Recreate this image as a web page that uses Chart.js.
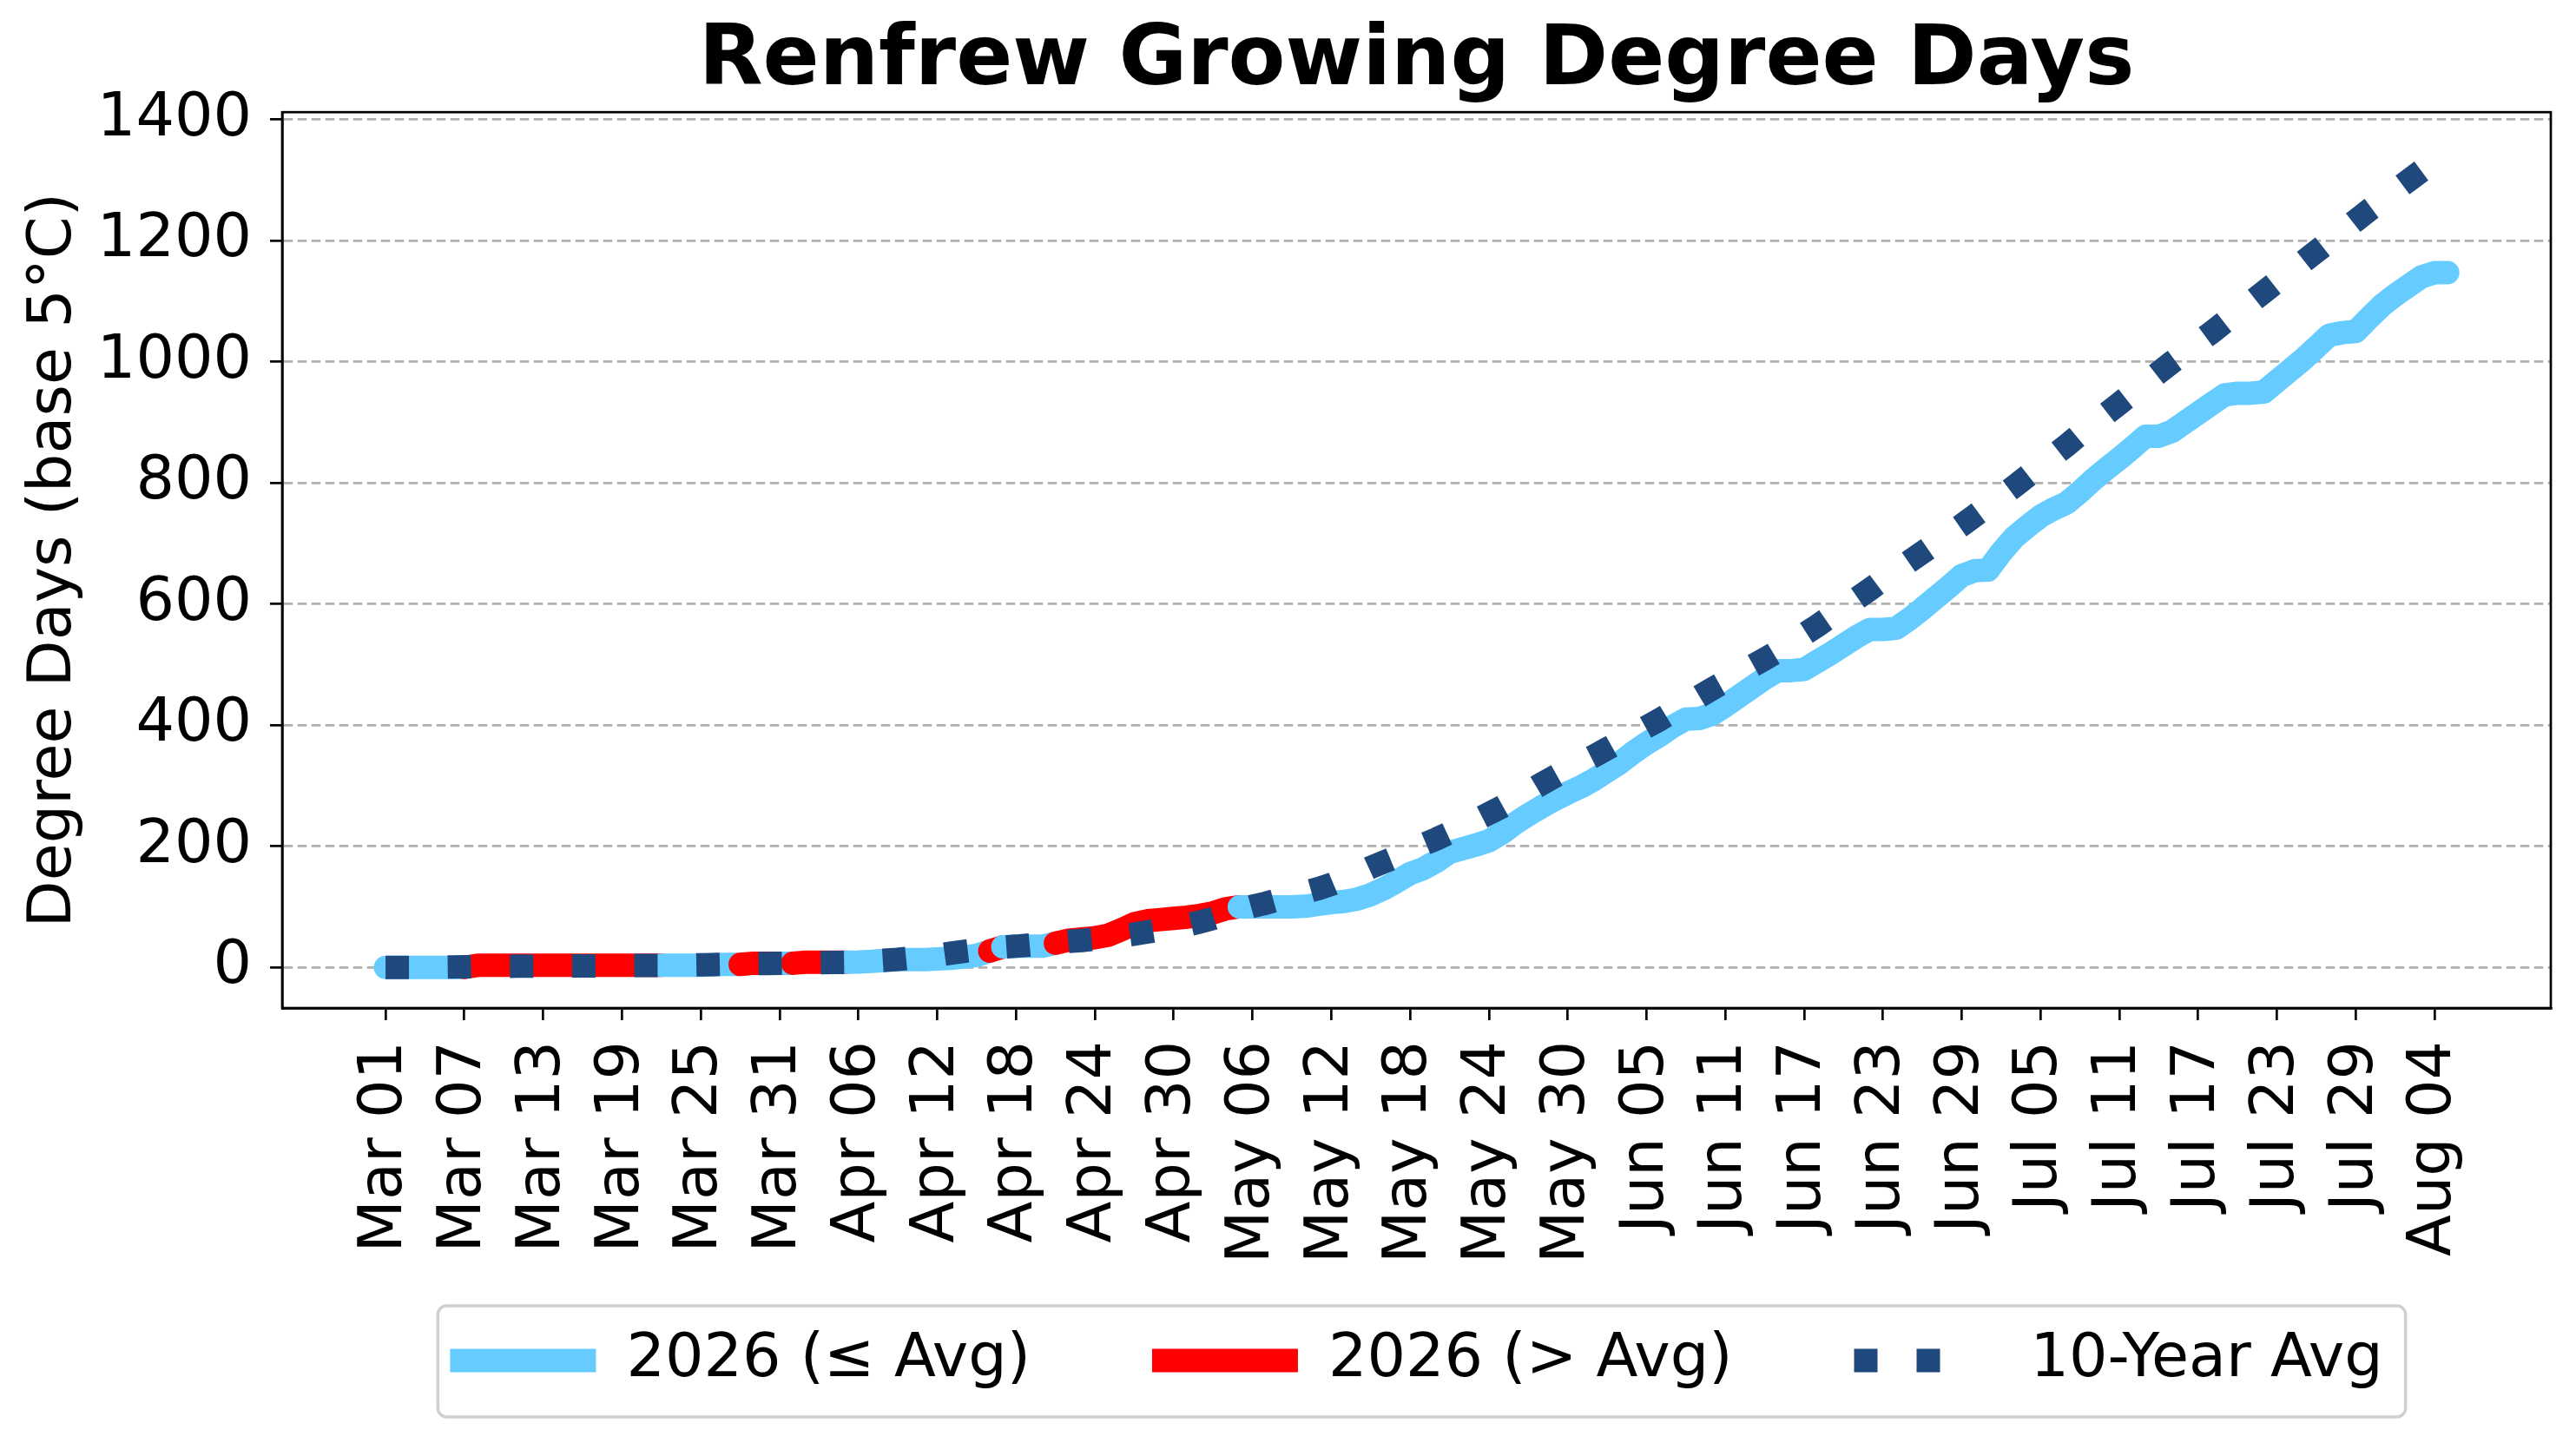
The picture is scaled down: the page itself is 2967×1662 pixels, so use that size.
<!DOCTYPE html>
<html>
<head>
<meta charset="utf-8">
<title>Renfrew Growing Degree Days</title>
<script src="https://cdn.jsdelivr.net/npm/chart.js@4.4.1/dist/chart.umd.min.js"></script>
<style>
  html, body { margin: 0; padding: 0; background: #fff; }
  #wrap { width: 2967px; height: 1662px; position: relative; }
</style>
</head>
<body>
<div id="wrap"><canvas id="gdd"></canvas></div>
<script>
// x tick labels, one every 6 days starting Mar 01 (day 0)
const tickLabels = ['Mar 01','Mar 07','Mar 13','Mar 19','Mar 25','Mar 31','Apr 06','Apr 12','Apr 18',
  'Apr 24','Apr 30','May 06','May 12','May 18','May 24','May 30','Jun 05','Jun 11','Jun 17',
  'Jun 23','Jun 29','Jul 05','Jul 11','Jul 17','Jul 23','Jul 29','Aug 04'];
const yTicks = [0, 200, 400, 600, 800, 1000, 1200, 1400];

// cumulative GDD, one value per day from Mar 01 to Aug 05
const gdd2026 = [
  0, 0, 0, 0, 0, 0, 0, 3.5, 3.5, 3.5,
  3.5, 3.5, 3.5, 3.5, 3.5, 3.5, 3.5, 3.5, 3.5, 3.5,
  3.5, 3.5, 3.5, 3.5, 3.5, 4.5, 5, 5, 7, 7,
  7, 7, 8.5, 8.5, 8.5, 8.5, 9, 10, 11.5, 13,
  13, 13, 14, 15, 17, 20, 27, 34, 35, 35,
  35, 40, 45, 47, 49, 53, 62, 72, 77, 79,
  81, 83, 86, 90, 97, 100, 100, 100, 100, 100,
  101, 104, 107, 109, 113, 120, 130, 142, 155, 163,
  175, 190, 196, 202, 209, 222, 238, 252, 265, 277,
  288, 298, 310, 324, 338, 355, 370, 383, 398, 410,
  411, 418, 432, 447, 462, 477, 490, 490, 492, 505,
  518, 532, 546, 558, 558, 560, 575, 592, 610, 628,
  647, 655, 656, 685, 710, 728, 745, 757, 767, 785,
  805, 823, 840, 858, 877, 877, 885, 900, 915, 930,
  945, 948, 948, 950, 968, 986, 1004, 1024, 1044, 1048,
  1050, 1072, 1093, 1110, 1125, 1140, 1147, 1147
];
const gddAvg = [
  0, 0, 0, 0.2, 0.4, 0.7, 1, 1.4, 1.6, 1.8,
  2, 2.1, 2.2, 2.3, 2.4, 2.4, 2.6, 2.8, 3, 3.2,
  3.3, 3.4, 3.6, 3.9, 4.3, 4.8, 5.3, 5.8, 6.2, 6.6,
  6.9, 7.2, 7.5, 7.8, 8.1, 8.4, 9.2, 10.3, 11.7, 13.3,
  15.5, 18, 20.5, 23.5, 26.5, 29, 31.5, 33.5, 35, 37,
  39, 41, 43, 44.5, 46.5, 49, 52, 55, 58.5, 62,
  66, 70, 75, 81, 88, 95, 101, 106, 112, 118,
  124, 130, 137, 146, 155, 165, 174, 183, 193, 203,
  212, 222, 232, 243, 254, 265, 277, 290, 303, 315,
  327, 338, 349, 361, 373, 385, 397, 409, 422, 435,
  447, 460, 472, 485, 497, 509, 522, 536, 550, 564,
  579, 594, 609, 624, 640, 655, 670, 685, 700, 715,
  730, 746, 762, 778, 794, 811, 828, 845, 862, 880,
  897, 914, 931, 948, 965, 982, 999, 1015, 1032, 1048,
  1065, 1081, 1098, 1115, 1132, 1148, 1165, 1182, 1199, 1216,
  1233, 1250, 1266, 1283, 1299, 1315, 1331, 1347
];

const BLUE = '#66ccff';
const RED = '#ff0000';
const NAVY = '#1f497d';
const GRID = '#b0b0b0';

Chart.defaults.font.family = 'DejaVu Sans';
Chart.defaults.color = '#000';

// top/right spines and the legend frame
const framePlugin = {
  id: 'frame',
  afterDraw(chart) {
    const ctx = chart.ctx;
    const a = chart.chartArea;
    ctx.save();
    ctx.strokeStyle = '#000';
    ctx.lineWidth = 2.7;
    ctx.strokeRect(a.left, a.top, a.right - a.left, a.bottom - a.top);

    const boxes = chart.legend.legendHitBoxes;
    if (boxes && boxes.length) {
      const first = boxes[0], last = boxes[boxes.length - 1];
      const x0 = first.left - 14, x1 = last.left + last.width + 26;
      const y0 = first.top - 28, y1 = first.top + first.height + 30;
      ctx.strokeStyle = '#d0d0d0';
      ctx.lineWidth = 3.5;
      ctx.beginPath();
      ctx.roundRect(x0, y0, x1 - x0, y1 - y0, 10);
      ctx.stroke();
    }
    ctx.restore();
  }
};

const ctx = document.getElementById('gdd').getContext('2d');
new Chart(ctx, {
  type: 'line',
  data: {
    datasets: [
      {
        label: '10-Year Avg',
        data: gddAvg.map((v, i) => ({x: i, y: v})),
        borderColor: NAVY,
        borderWidth: 27,
        borderDash: [27, 44.6],
        borderCapStyle: 'butt',
        pointRadius: 0,
        tension: 0,
        order: 0
      },
      {
        label: '2026',
        data: gdd2026.map((v, i) => ({x: i, y: v})),
        borderColor: BLUE,
        borderWidth: 27,
        borderCapStyle: 'round',
        borderJoinStyle: 'round',
        pointRadius: 0,
        tension: 0,
        order: 1,
        segment: {
          borderColor: c => gdd2026[c.p1DataIndex] > gddAvg[c.p1DataIndex] ? RED : BLUE
        }
      }
    ]
  },
  options: {
    responsive: true,
    maintainAspectRatio: false,
    animation: false,
    devicePixelRatio: 1,
    layout: { padding: { left: 21, right: 29, top: 0, bottom: 50 } },
    plugins: {
      tooltip: { enabled: false },
      title: {
        display: true,
        fullSize: false,
        text: 'Renfrew Growing Degree Days',
        font: { size: 96, weight: 'bold' },
        padding: { top: 14, bottom: 0 }
      },
      legend: {
        position: 'bottom',
        fullSize: false,
        labels: {
          font: { size: 70 },
          usePointStyle: true,
          pointStyleWidth: 168,
          boxHeight: 40,
          padding: 140,
          generateLabels: () => [
            { text: '2026 (≤ Avg)', strokeStyle: BLUE, fillStyle: BLUE, lineWidth: 27,
              lineCap: 'butt', lineDash: [], pointStyle: 'line', hidden: false, datasetIndex: 1 },
            { text: '2026 (> Avg)', strokeStyle: RED, fillStyle: RED, lineWidth: 27,
              lineCap: 'butt', lineDash: [], pointStyle: 'line', hidden: false, datasetIndex: 1 },
            { text: '10-Year Avg', strokeStyle: NAVY, fillStyle: NAVY, lineWidth: 27,
              lineCap: 'butt', lineDash: [27, 45, 27, 1000], pointStyle: 'line', hidden: false, datasetIndex: 0 }
          ]
        }
      }
    },
    scales: {
      x: {
        type: 'linear',
        min: -7.87,
        max: 164.85,
        // keep the axis short so the legend sits where it should; labels may run past it
        afterFit: s => { s.height = 231; s._computeLabelArea = () => undefined; },
        afterBuildTicks: s => { s.ticks = tickLabels.map((_, i) => ({ value: i * 6 })); },
        ticks: {
          autoSkip: false,
          minRotation: 90,
          maxRotation: 90,
          padding: 24,
          font: { size: 70 },
          callback: v => tickLabels[Math.round(v / 6)]
        },
        grid: {
          drawOnChartArea: false,
          drawTicks: true,
          tickLength: 14,
          tickColor: '#000',
          tickWidth: 2.7,
          color: '#000',
          lineWidth: 2.7
        },
        border: { color: '#000', width: 2.7 }
      },
      y: {
        type: 'linear',
        min: -67,
        max: 1412,
        afterFit: s => { s.width = 304; },
        afterBuildTicks: s => { s.ticks = yTicks.map(v => ({ value: v })); },
        ticks: {
          padding: 21,
          font: { size: 70 },
          callback: v => String(v)
        },
        title: {
          display: true,
          text: 'Degree Days (base 5°C)',
          font: { size: 70 },
          padding: { top: 0, bottom: 0 }
        },
        grid: {
          color: GRID,
          lineWidth: 2.7,
          drawTicks: true,
          tickLength: 14,
          tickColor: '#000',
          tickWidth: 2.7
        },
        border: { display: true, color: '#000', width: 2.7, dash: [10.5, 5.5] }
      }
    }
  },
  plugins: [framePlugin]
});
</script>
</body>
</html>
